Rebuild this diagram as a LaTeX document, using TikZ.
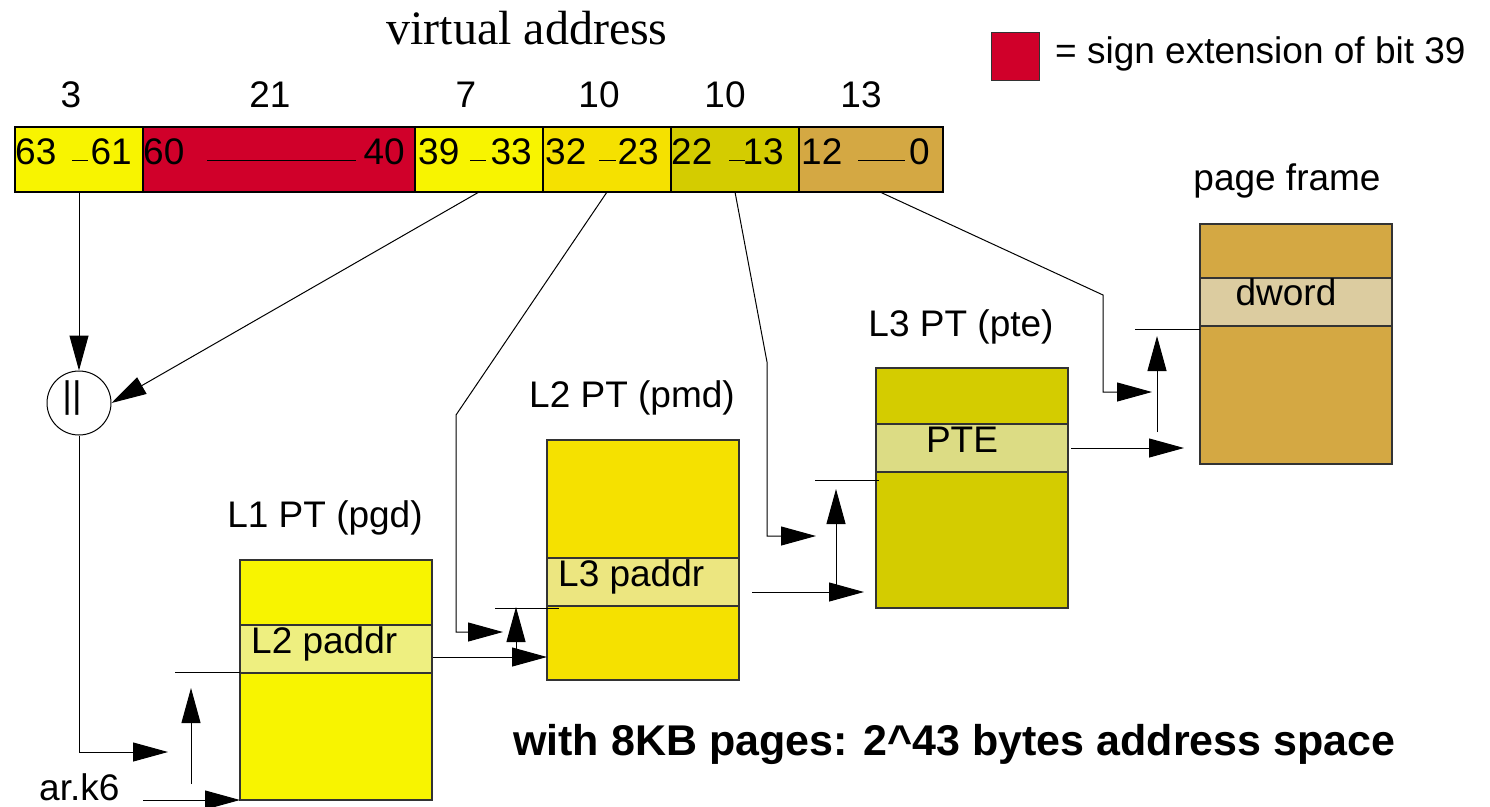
\documentclass[tikz,border=0pt]{standalone}
\usepackage{fontspec}
\setmainfont{Liberation Sans}
\newfontfamily\seriffont{Liberation Serif}
\usetikzlibrary{arrows.meta}
\definecolor{yelA}{HTML}{F8F400}
\definecolor{yelB}{HTML}{F5E100}
\definecolor{olv}{HTML}{D4CC00}
\definecolor{tanc}{HTML}{D4A843}
\definecolor{sred}{HTML}{D0002A}
\definecolor{yelAband}{HTML}{EEEF80}
\definecolor{yelBband}{HTML}{ECE680}
\definecolor{olvband}{HTML}{DCDC84}
\definecolor{tanband}{HTML}{DCCCA0}
\tikzset{
  field/.style={draw=black, line width=1.2pt, minimum height=65pt, inner sep=0pt, outer sep=0pt},
  tbl/.style={draw=black!80, line width=1.2pt, minimum width=192pt, minimum height=240pt, inner sep=0pt, outer sep=0pt},
  band/.style={draw=black!80, line width=1.2pt, minimum width=192pt, minimum height=48pt, inner sep=0pt, outer sep=0pt},
  lbl/.style={font=\fontsize{37}{40}\selectfont, inner sep=0pt},
  arr/.style={line width=1pt, -{Triangle[length=35pt,width=19pt]}},
  ln/.style={line width=1pt}
}
\begin{document}
\begin{tikzpicture}[x=1pt,y=-1pt]
\useasboundingbox (0,0) rectangle (1490,806);

% title and legend
\node[font=\seriffont\fontsize{48}{52}\selectfont, anchor=base, inner sep=0pt] (title) at (527,44) {virtual address};
\node[draw=black!80, fill=sred, minimum size=48pt, inner sep=0pt, line width=1pt] (leg) at (1015,56) {};
\node[lbl, anchor=base west] (legt) at (1055,63) {= sign extension of bit 39};

% field widths
\node[lbl, anchor=base] (w1) at (71,107) {3};
\node[lbl, anchor=base] (w2) at (270,107) {21};
\node[lbl, anchor=base] (w3) at (466,107) {7};
\node[lbl, anchor=base] (w4) at (599,107) {10};
\node[lbl, anchor=base] (w5) at (725,107) {10};
\node[lbl, anchor=base] (w6) at (861,107) {13};

% address fields
\node[field, fill=yelA, minimum width=128pt] (f1) at (79,159.5) {};
\node[field, fill=sred, minimum width=272pt] (f2) at (279,159.5) {};
\node[field, fill=yelA, minimum width=128pt] (f3) at (479,159.5) {};
\node[field, fill=yelB, minimum width=128pt] (f4) at (607,159.5) {};
\node[field, fill=olv, minimum width=128pt] (f5) at (735,159.5) {};
\node[field, fill=tanc, minimum width=144pt] (f6) at (871,159.5) {};

\node[lbl, anchor=base west] (a1) at (15,164) {63};
\node[lbl, anchor=base east] (b1) at (132,164) {61};
\draw[ln] (72,160) -- (88,160);
\node[lbl, anchor=base west] (a2) at (143,164) {60};
\node[lbl, anchor=base east] (b2) at (405,164) {40};
\draw[ln] (207,160) -- (356,160);
\node[lbl, anchor=base west] (a3) at (418,164) {39};
\node[lbl, anchor=base east] (b3) at (532,164) {33};
\draw[ln] (470,160) -- (486,160);
\node[lbl, anchor=base west] (a4) at (545,164) {32};
\node[lbl, anchor=base east] (b4) at (659,164) {23};
\draw[ln] (599,160) -- (616,160);
\node[lbl, anchor=base west] (a5) at (671,164) {22};
\node[lbl, anchor=base east] (b5) at (784,164) {13};
\draw[ln] (729,160) -- (745,160);
\node[lbl, anchor=base west] (a6) at (801,164) {12};
\node[lbl, anchor=base east] (b6) at (930,164) {0};
\draw[ln] (858,160) -- (905,160);

% concatenation circle
\node[draw, circle, minimum size=64pt, inner sep=0pt, line width=1pt] (circ) at (79,403) {};
\node[lbl, anchor=center] (bars) at (72,398) {||};

% tables
\node[tbl, fill=yelA] (L1) at (336,680) {};
\node[band, fill=yelAband] (L1e) at (336,649) {};
\node[lbl, anchor=base west] (L1t) at (251,653) {L2 paddr};
\node[lbl, anchor=base] (L1h) at (325,527) {L1 PT (pgd)};

\node[tbl, fill=yelB] (L2) at (643,560) {};
\node[band, fill=yelBband] (L2e) at (643,582) {};
\node[lbl, anchor=base west] (L2t) at (558,586) {L3 paddr};
\node[lbl, anchor=base] (L2h) at (632,407) {L2 PT (pmd)};

\node[tbl, fill=olv] (L3) at (972,488) {};
\node[band, fill=olvband] (L3e) at (972,448) {};
\node[lbl, anchor=base] (L3t) at (962,452) {PTE};
\node[lbl, anchor=base] (L3h) at (961,336) {L3 PT (pte)};

\node[tbl, fill=tanc] (PF) at (1296,344) {};
\node[band, fill=tanband] (PFe) at (1296,302) {};
\node[lbl, anchor=base] (PFt) at (1286,305) {dword};
\node[lbl, anchor=base] (PFh) at (1287,190) {page frame};

\node[lbl, anchor=base west] (ark) at (39,800) {ar.k6};
\node[font=\bfseries\fontsize{43}{47}\selectfont, anchor=base west, inner sep=0pt] (note) at (513,755) {with 8KB pages: 2{\char"5E}43 bytes address space};

% connectors: concatenation
\draw[arr] (f1.south) -- (circ.north);
\draw[arr] (f3.south) -- (circ.east);
\coordinate (t1) at (168,752);
\draw[arr] (circ.south) |- (t1);

% L1 lookup
\coordinate (k6) at (143,800);
\draw[arr] (k6) -- (L1.south west);
\coordinate (u1a) at (191,784);
\coordinate (u1b) at (191,688);
\draw[arr] (u1a) -- (u1b);
\coordinate (e1) at (175,672);
\draw[ln] (e1) -- (e1 -| L1.west);

% L1 -> L2
\coordinate (o1) at (433,657);
\draw[arr] (o1) -- (o1 -| L2.west);
\coordinate (u2a) at (516,657);
\coordinate (u2b) at (516,607);
\draw[arr] (u2a) -- (u2b);
\coordinate (e2a) at (495,608);
\coordinate (e2b) at (559,608);
\draw[ln] (e2a) -- (e2b);
\coordinate (p4) at (456,415);
\coordinate (t4) at (503,632);
\draw[arr] (f4.south) -- (p4) |- (t4);

% L2 -> L3
\coordinate (o2) at (752,592);
\coordinate (o2t) at (864,592);
\draw[arr] (o2) -- (o2t);
\coordinate (u3a) at (836,592);
\coordinate (u3b) at (836,489);
\draw[arr] (u3a) -- (u3b);
\coordinate (e3) at (815,480);
\draw[ln] (e3) -- ([xshift=3pt]e3 -| L3.west);
\coordinate (p5) at (767,362);
\coordinate (t5) at (816,536);
\draw[arr] (f5.south) -- (p5) |- (t5);

% L3 -> page frame
\coordinate (o3) at (1071,448);
\coordinate (o3t) at (1184,448);
\draw[arr] (o3) -- (o3t);
\coordinate (u4a) at (1157,432);
\coordinate (u4b) at (1157,336);
\draw[arr] (u4a) -- (u4b);
\coordinate (e4) at (1135,329);
\draw[ln] (e4) -- (e4 -| PF.west);
\coordinate (s6) at (880,192);
\coordinate (p6) at (1103,295);
\coordinate (t6) at (1152,392);
\draw[arr] (s6) -- (p6) |- (t6);
\end{tikzpicture}
\end{document}
